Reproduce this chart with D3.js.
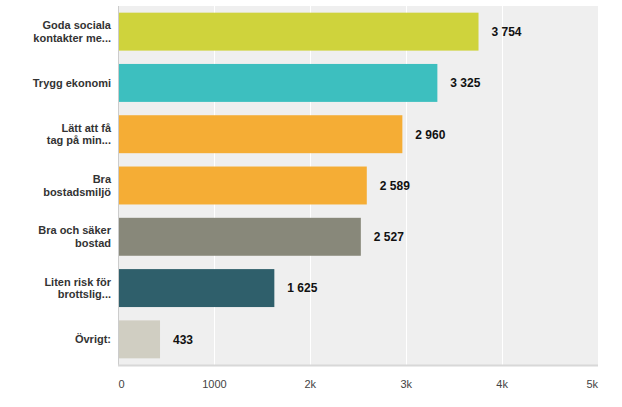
<!DOCTYPE html>
<html>
<head>
<meta charset="utf-8">
<script src="https://cdn.jsdelivr.net/npm/d3@7"></script>
<style>
  body { margin: 0; background: #fff; }
  text { font-family: "Liberation Sans", Arial, sans-serif; }
</style>
</head>
<body>
<div id="chart"></div>
<script>
// Chart data
const categories = [
    ["Goda sociala", "kontakter me..."],
    ["Trygg ekonomi"],
    ["Lätt att få", "tag på min..."],
    ["Bra", "bostadsmiljö"],
    ["Bra och säker", "bostad"],
    ["Liten risk för", "brottslig..."],
    ["Övrigt:"]
];
const values = [3754, 3325, 2960, 2589, 2527, 1625, 433];
const barColors = ["#cfd33c", "#3dbfbf", "#f5ad35", "#f5ad35", "#88887a", "#2f5f6b", "#d0cec2"];
const tickValues = [0, 1000, 2000, 3000, 4000, 5000];
const tickLabels = ["0", "1000", "2k", "3k", "4k", "5k"];

const W = 622, H = 407;
const plot = { left: 118.5, right: 598, top: 6, bottom: 365 };

const svg = d3.select("#chart")
    .append("svg")
    .attr("width", W)
    .attr("height", H);

const x = d3.scaleLinear()
    .domain([0, 5000])
    .range([plot.left, plot.right]);

const y = d3.scaleBand()
    .domain(d3.range(values.length))
    .range([plot.top, plot.bottom])
    .paddingInner(0.26)
    .paddingOuter(0.13);

const fmt = d3.formatLocale({ decimal: ",", thousands: "\u00a0", grouping: [3], currency: ["", ""] }).format(",d");

// plot background
svg.append("rect")
    .attr("x", plot.left)
    .attr("y", plot.top)
    .attr("width", plot.right - plot.left)
    .attr("height", plot.bottom - plot.top)
    .attr("fill", "#efefef");

// vertical gridlines
svg.append("g")
    .selectAll("line")
    .data(tickValues.slice(1, -1))
    .enter()
    .append("line")
    .attr("x1", d => Math.round(x(d)) + 0.5)
    .attr("x2", d => Math.round(x(d)) + 0.5)
    .attr("y1", plot.top)
    .attr("y2", plot.bottom)
    .attr("stroke", "#fff")
    .attr("stroke-width", 1);

// bars
svg.append("g")
    .selectAll("rect")
    .data(values)
    .enter()
    .append("rect")
    .attr("x", x(0))
    .attr("y", (d, i) => y(i))
    .attr("width", d => x(d) - x(0))
    .attr("height", y.bandwidth())
    .attr("fill", (d, i) => barColors[i]);

// value labels
svg.append("g")
    .selectAll("text")
    .data(values)
    .enter()
    .append("text")
    .attr("x", d => x(d) + 13)
    .attr("y", (d, i) => y(i) + y.bandwidth() / 2)
    .attr("dy", "0.36em")
    .attr("font-size", "12px")
    .attr("font-weight", "bold")
    .attr("fill", "#111")
    .text(d => fmt(d));

// category labels
const catG = svg.append("g")
    .selectAll("text")
    .data(categories)
    .enter()
    .append("text")
    .attr("text-anchor", "end")
    .attr("font-size", "11px")
    .attr("font-weight", "bold")
    .attr("fill", "#333");

catG.each(function(lines, i) {
    const cy = y(i) + y.bandwidth() / 2;
    const lh = 12.5;
    const start = cy - (lines.length - 1) * lh / 2;
    d3.select(this).selectAll("tspan")
        .data(lines)
        .enter()
        .append("tspan")
        .attr("x", 111)
        .attr("y", (d, j) => start + j * lh)
        .attr("dy", "0.36em")
        .text(d => d);
});

// left axis line
svg.append("line")
    .attr("x1", plot.left)
    .attr("x2", plot.left)
    .attr("y1", plot.top)
    .attr("y2", plot.bottom)
    .attr("stroke", "#ccc")
    .attr("stroke-width", 1);

// bottom axis line
svg.append("line")
    .attr("x1", plot.left - 0.5)
    .attr("x2", plot.right)
    .attr("y1", plot.bottom + 0.5)
    .attr("y2", plot.bottom + 0.5)
    .attr("stroke", "#d8d8d8")
    .attr("stroke-width", 2);

// x tick labels
svg.append("g")
    .selectAll("text")
    .data(tickValues)
    .enter()
    .append("text")
    .attr("x", d => x(d))
    .attr("y", 388)
    .attr("text-anchor", (d, i) => i === 0 ? "start" : (i === tickValues.length - 1 ? "end" : "middle"))
    .attr("font-size", "11px")
    .attr("fill", "#444")
    .text((d, i) => tickLabels[i]);
</script>
</body>
</html>
